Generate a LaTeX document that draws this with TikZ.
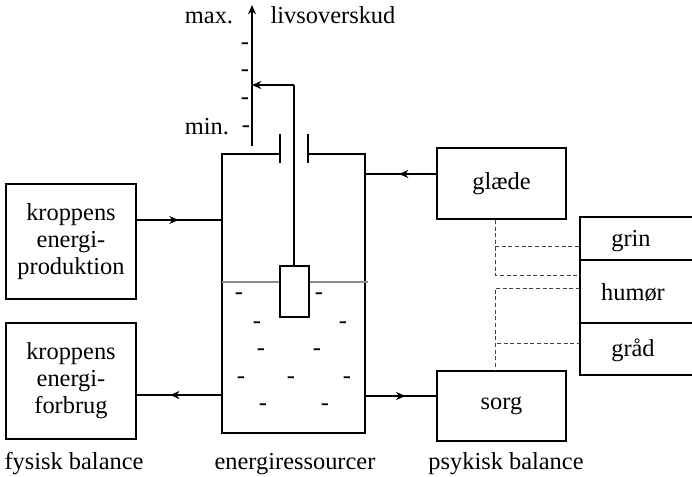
\documentclass[tikz,border=0pt]{standalone}
\usepackage{fontspec}
\setmainfont{Liberation Serif}
\usepackage{xcolor}
\usepackage{tikz}
\usetikzlibrary{arrows.meta, calc, decorations.markings}

\begin{document}
\begin{tikzpicture}[
    x=0.75pt, y=-0.75pt,
    every node/.style={font=\fontsize{18.3}{20.3}\selectfont},
    box/.style={rectangle, draw, line width=1.5pt, inner sep=0pt, align=center, text width=90pt},
    label/.style={inner sep=0pt, anchor=base},
    charge/.style={inner sep=0pt},
    wall/.style={line width=1.5pt},
    flow/.style={line width=1.2pt, postaction={decorate}, decoration={markings, mark=at position #1 with {\arrow{Stealth[length=7pt,width=6pt]}}}},
    link/.style={densely dashed, line width=0.7pt, black!75},
    arrow/.style={line width=1.3pt, -{Stealth[length=7pt,width=6pt]}}
]
    \useasboundingbox (0,0) rectangle (692,476);

    % boxes on the left
    \node[box, minimum width=97.5pt, minimum height=86pt] (prod) at (71,241.5) {kroppens\\energi-\\produktion};
    \node[box, minimum width=97.5pt, minimum height=87pt] (forbrug) at (71,381) {kroppens\\energi-\\forbrug};

    % boxes on the right
    \node[box, minimum width=97pt, minimum height=53pt] (glaede) at (501.5,183.5) {glæde};
    \node[box, minimum width=97pt, minimum height=52pt] (sorg) at (501.5,406) {sorg};

    % stack at the border
    \node[label] (grin) at (631,246) {grin};
    \node[label] (humor) at (633,300) {humør};
    \node[label] (graad) at (633,356) {gråd};
    \coordinate (s1) at (580,217);
    \coordinate (s2) at (580,260);
    \coordinate (s3) at (580,323);
    \coordinate (s4) at (580,375);
    \draw[wall] (692,217) -- (s1) -- (s4) -- (692,375);
    \draw[wall] (s2) -- (692,260);
    \draw[wall] (s3) -- (692,323);

    % tank
    \coordinate (tl) at (222,154);
    \coordinate (tr) at (365,154);
    \coordinate (bl) at (222,433);
    \coordinate (br) at (365,433);
    \coordinate (pl) at (280,154);
    \coordinate (pr) at (308,154);
    \draw[wall] (pl) -- (tl) -- (bl) -- (br) -- (tr) -- (pr);
    \draw[wall] (280,134) -- (280,163);
    \draw[wall] (308,134) -- (308,163);
    \draw[black!45, line width=1pt] (bl |- 0,282) -- (280,282);
    \draw[black!45, line width=1pt] (309,282) -- (368,282);

    % float
    \node[rectangle, draw, line width=1.5pt, minimum width=21.5pt, minimum height=38pt, inner sep=0pt] (float) at (294.5,291.5) {};

    % scale
    \coordinate (a0) at (252,146);
    \coordinate (a1) at (252,5);
    \coordinate (a2) at (252,85);
    \coordinate (a3) at (294,85);
    \draw[arrow] (a0) -- (a1);
    \draw[arrow] (a3) -- (a2);
    \draw[wall] (a3) -- (float.north -| a3);

    \foreach \i/\x/\y in {1/245/46, 2/245/73, 3/245/101, 4/246/129}
        \node[charge] (t\i) at (\x,\y) {-};
    \foreach \i/\x/\y in {1/239/296, 2/319/296, 3/257/325, 4/343/325, 5/261/352, 6/317/352, 7/241/380, 8/291/380, 9/347/380, 10/263/407, 11/325/407}
        \node[charge] (q\i) at (\x,\y) {-};

    \node[label] (max) at (209,23) {max.};
    \node[label] (min) at (207,134) {min.};
    \node[label] (livs) at (333,23) {livsoverskud};

    % flows
    \draw[flow=0.49] (prod.east |- 0,220) -- (222,220);
    \draw[flow=0.61] (222,395) -- (forbrug.east |- 0,395);
    \draw[flow=0.52] (glaede.west |- 0,174) -- (365,174);
    \draw[flow=0.57] (365,396) -- (sorg.west |- 0,396);

    % dashed links
    \coordinate (d1) at (495,246);
    \coordinate (d2) at (495,275);
    \coordinate (d3) at (495,288);
    \coordinate (d4) at (497,343);
    \draw[link] (glaede.south -| d1) -- (d2) -- (s1 |- d2);
    \draw[link] (d1) -- (s1 |- d1);
    \draw[link] (s1 |- d3) -- (d3) -- (sorg.north -| d3);
    \draw[link] (d4) -- (s1 |- d4);

    % captions
    \node[label] (fysisk) at (74,469) {fysisk balance};
    \node[label] (energi) at (295,469) {energiressourcer};
    \node[label] (psykisk) at (506,469) {psykisk balance};
\end{tikzpicture}
\end{document}
